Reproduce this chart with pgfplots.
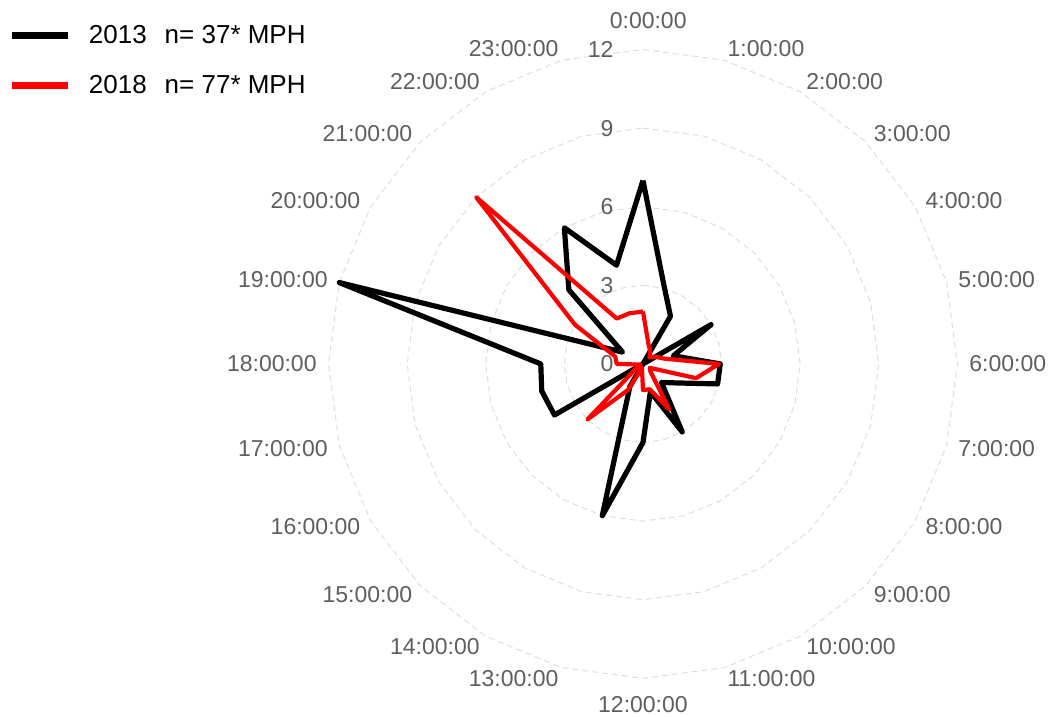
\documentclass[border=0pt]{standalone}
\usepackage{pgfplots}
\pgfplotsset{compat=1.18}
\usepackage{pgfplotstable}
\usepackage{fontspec}
\setmainfont{Liberation Sans}
\definecolor{lab}{HTML}{5E5E5E}
\definecolor{gridc}{HTML}{DEDEDE}
\definecolor{red18}{HTML}{FF0000}
\tikzset{hourlab/.style={inner sep=0pt, text=lab, font=\fontsize{23bp}{28bp}\selectfont}}

% h = hour, a = 2013, b = 2018
\pgfplotstableread{
h a b
0 7.0 2.0
1 3.1 0.8
2 2.1 0.55
3 0.0 0.35
4 3.0 0.55
5 1.2 0.8
6 2.95 2.9
7 2.95 2.1
8 1.45 0.3
9 1.0 0.4
10 3.0 2.0
11 1.1 1.0
12 3.0 1.0
13 6.0 0.15
14 1.0 1.15
15 0.0 3.0
16 3.9 0.25
17 4.0 0.1
18 3.9 1.0
19 12.0 1.1
20 0.9 3.0
21 4.0 9.0
22 6.0 2.0
23 3.9 2.0
24 7.0 2.0
}\data

\begin{document}
\begin{tikzpicture}
\begin{axis}[
  x=26.2bp, y=26.2bp,
  xmin=-24.54, xmax=15.65, ymin=-13.47, ymax=13.89,
  hide axis, clip=false,
  legend cell align=left,
  legend style={at={(axis cs:-24.2,12.94)}, anchor=north west, draw=none, fill=none,
    inner sep=0pt, outer sep=0pt, row sep=31bp, column sep=17bp,
    font=\fontsize{26bp}{31bp}\selectfont,
    nodes={inner sep=0pt, text height=19bp, text depth=0bp}},
  legend image code/.code={\draw[#1, line width=7bp, line cap=butt] (0bp,-1.5bp) -- (56bp,-1.5bp);},
]
% grid polygons
\foreach \r in {3,6,9,12}{
\addplot[gridc, line width=1bp, dash pattern=on 6bp off 4bp, forget plot]
  table[x expr={\r*sin(15*\thisrow{h})}, y expr={\r*cos(15*\thisrow{h})}] {\data};
}
% radial labels
\pgfplotsinvokeforeach{0,3,6,9,12}{
  \node[anchor=east, hourlab] at (axis cs:-1.12,#1) {#1};
}
% hour labels
\node[anchor=south, hourlab] at (axis cs:0.2,12.8) {0:00:00};
\node[anchor=north, hourlab] at (axis cs:0,-12.7) {12:00:00};
\pgfplotsinvokeforeach{1,...,11}{
  \node[anchor=west, hourlab] at (axis cs:{12.45*sin(15*#1)},{12.45*cos(15*#1)}) {#1:00:00};
}
\pgfplotsinvokeforeach{13,...,23}{
  \node[anchor=east, hourlab] at (axis cs:{12.45*sin(15*#1)},{12.45*cos(15*#1)}) {#1:00:00};
}
\addplot[black, line width=5.2bp, line join=round]
  table[x expr={\thisrow{a}*sin(15*\thisrow{h})}, y expr={\thisrow{a}*cos(15*\thisrow{h})}] {\data};
\addlegendentry{2013\hspace{18bp}n= 37* MPH}
\addplot[red18, line width=4.2bp, line join=round]
  table[x expr={\thisrow{b}*sin(15*\thisrow{h})}, y expr={\thisrow{b}*cos(15*\thisrow{h})}] {\data};
\addlegendentry{2018\hspace{18bp}n= 77* MPH}
\path (rel axis cs:0,0) rectangle (rel axis cs:1,1);
\end{axis}
\end{tikzpicture}
\end{document}
